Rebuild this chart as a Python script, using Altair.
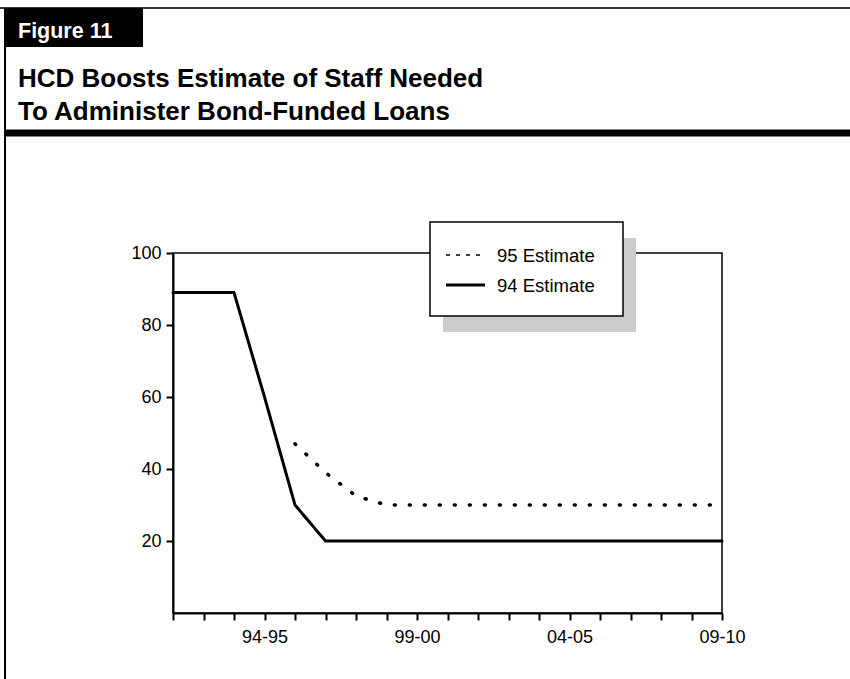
import json

import altair as alt
import pandas as pd

# Fiscal years on the horizontal axis
YEARS = ["91-92", "92-93", "93-94", "94-95", "95-96", "96-97", "97-98",
         "98-99", "99-00", "00-01", "01-02", "02-03", "03-04", "04-05",
         "05-06", "06-07", "07-08", "08-09", "09-10"]
# Staff positions needed, by estimate
EST_94 = [89, 89, 89, 60, 30, 20, 20, 20, 20, 20, 20, 20, 20, 20, 20, 20, 20, 20, 20]
EST_95 = [None, None, None, None, 47, 39, 32.5, 30, 30, 30, 30, 30, 30, 30, 30, 30, 30, 30, 30]
SERIES = ["95 Estimate", "94 Estimate"]
LABELED_YEARS = ["94-95", "99-00", "04-05", "09-10"]
Y_TICKS = [20, 40, 60, 80, 100]
FIGURE_LABEL = "Figure 11"
TITLE_LINES = ["HCD Boosts Estimate of Staff Needed", "To Administer Bond-Funded Loans"]

FONT = "Liberation Sans"

rows = []
for name, values in (("94 Estimate", EST_94), ("95 Estimate", EST_95)):
    for year, v in zip(YEARS, values):
        if v is not None:
            rows.append({"year": year, "series": name, "staff": v})
data = pd.DataFrame(rows)
one = pd.DataFrame({"k": [0]})

label_expr = "indexof(%s, datum.value) >= 0 ? datum.value : ''" % json.dumps(LABELED_YEARS)

lines = alt.Chart(data).mark_line(
    color="black", strokeCap="round", strokeJoin="miter"
).encode(
    x=alt.X(
        "year:O",
        sort=YEARS,
        scale=alt.Scale(type="point", padding=0, domain=YEARS),
        axis=alt.Axis(
            title=None, labelExpr=label_expr, labelAngle=0, labelOverlap=False,
            labelFont=FONT, labelFontSize=18, labelColor="black", labelPadding=8,
            tickSize=7, tickWidth=2, tickColor="black",
            domainColor="black", domainWidth=2, grid=False,
        ),
    ),
    y=alt.Y(
        "staff:Q",
        scale=alt.Scale(domain=[0, 100], nice=False),
        axis=alt.Axis(
            title=None, values=Y_TICKS,
            labelFont=FONT, labelFontSize=18, labelColor="black", labelPadding=5,
            tickSize=7, tickWidth=2, tickColor="black",
            domainColor="black", domainWidth=2, grid=False,
        ),
    ),
    strokeDash=alt.StrokeDash(
        "series:N",
        scale=alt.Scale(domain=SERIES, range=[[1, 14], [1, 0]]),
        legend=None,
    ),
    strokeWidth=alt.StrokeWidth(
        "series:N",
        scale=alt.Scale(domain=SERIES, range=[3.5, 3]),
        legend=None,
    ),
)

# Legend panel with its drop shadow
shadow = alt.Chart(one).mark_rect(color="#cccccc").encode(
    x=alt.value(270), x2=alt.value(463), y=alt.value(-15), y2=alt.value(79)
)
box = alt.Chart(one).mark_rect(fill="white", stroke="black", strokeWidth=1.5).encode(
    x=alt.value(257), x2=alt.value(450), y=alt.value(-31), y2=alt.value(63)
)
key_dotted = alt.Chart(one).mark_rule(color="black", strokeWidth=1.5, strokeDash=[4, 6]).encode(
    x=alt.value(273), x2=alt.value(313), y=alt.value(2)
)
key_solid = alt.Chart(one).mark_rule(color="black", strokeWidth=3).encode(
    x=alt.value(273), x2=alt.value(312), y=alt.value(32)
)
key_text_95 = alt.Chart(one).mark_text(
    text=SERIES[0], font=FONT, fontSize=18.5, color="black", align="left", baseline="alphabetic"
).encode(x=alt.value(324), y=alt.value(9))
key_text_94 = alt.Chart(one).mark_text(
    text=SERIES[1], font=FONT, fontSize=18.5, color="black", align="left", baseline="alphabetic"
).encode(x=alt.value(324), y=alt.value(39))

# Page header: outer frame, figure tab, title and heavy rule
top_frame = alt.Chart(one).mark_rule(color="#333333", strokeWidth=2).encode(
    x=alt.value(-173), x2=alt.value(677), y=alt.value(-245)
)
left_frame = alt.Chart(one).mark_rule(color="black", strokeWidth=2).encode(
    x=alt.value(-168), y=alt.value(-245), y2=alt.value(426)
)
tab = alt.Chart(one).mark_rect(color="black").encode(
    x=alt.value(-168), x2=alt.value(-30), y=alt.value(-245), y2=alt.value(-206)
)
tab_text = alt.Chart(one).mark_text(
    text=FIGURE_LABEL, font=FONT, fontSize=21.5, fontWeight="bold", color="white",
    align="left", baseline="alphabetic",
).encode(x=alt.value(-155), y=alt.value(-215))
title = alt.Chart(one).mark_text(
    text=TITLE_LINES, font=FONT, fontSize=26, fontWeight="bold", color="black",
    align="left", baseline="alphabetic", lineHeight=33,
).encode(x=alt.value(-155), y=alt.value(-166))
heavy_rule = alt.Chart(one).mark_rule(color="black", strokeWidth=7).encode(
    x=alt.value(-168), x2=alt.value(677), y=alt.value(-120)
)

chart = alt.layer(
    top_frame, left_frame, tab, tab_text, title, heavy_rule,
    shadow, box, key_dotted, key_solid, key_text_95, key_text_94, lines
).properties(
    width=549, height=360,
    padding={"left": 173, "top": 253, "right": 128, "bottom": 66},
    autosize=alt.AutoSizeParams(type="none"),
    background="white",
).configure_view(stroke="black", strokeWidth=1.5)

chart.save("out.html", embed_options={"renderer": "svg", "actions": False})
